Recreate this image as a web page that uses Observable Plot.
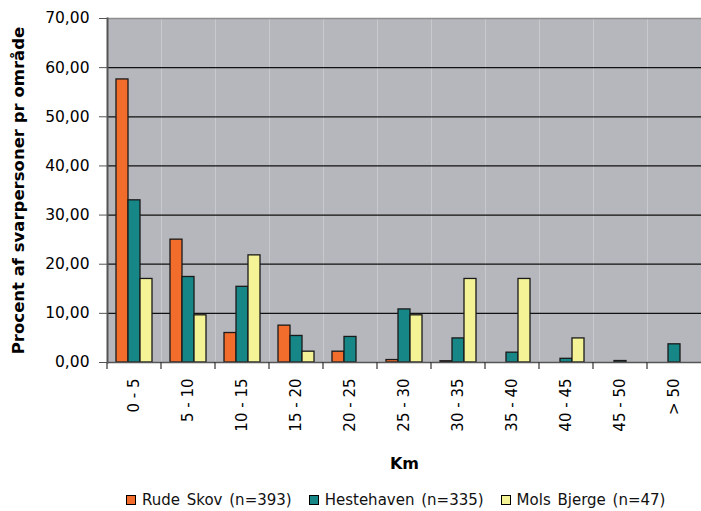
<!DOCTYPE html>
<html><head><meta charset="utf-8">
<script src="https://cdn.jsdelivr.net/npm/d3@7"></script>
<script src="https://cdn.jsdelivr.net/npm/@observablehq/plot@0.6"></script>
<style>
body{margin:0;background:#fff;font-family:"DejaVu Sans",sans-serif;}
#legend{height:31px;padding-top:8px;box-sizing:border-box;padding-left:126px;font-size:15px;line-height:18px;display:flex;align-items:center;color:#111;word-spacing:2px;}
#legend .item{display:inline-flex;align-items:center;margin-right:17px;white-space:nowrap;}
#legend .sw{width:8px;height:8px;border:1px solid #000;margin-right:6px;}
</style></head><body>
<div id="chart"></div>
<div id="legend"></div>
<script>
const categories = ["0 - 5","5 - 10","10 - 15","15 - 20","20 - 25","25 - 30","30 - 35","35 - 40","40 - 45","45 - 50","> 50"];
const seriesNames = ["Rude Skov (n=393)","Hestehaven (n=335)","Mols Bjerge (n=47)"];
const rudeSkov   = [57.6, 25.0, 6.0, 7.5, 2.2, 0.5, 0.25, 0, 0, 0, 0];
const hestehaven = [33.0, 17.4, 15.4, 5.4, 5.2, 10.8, 4.9, 2.0, 0.75, 0.3, 3.7];
const molsBjerge = [17.0, 9.6, 21.8, 2.2, 0, 9.6, 17.0, 17.0, 4.9, 0, 0];
const seriesValues = [rudeSkov, hestehaven, molsBjerge];
const colors = ["#F26C2C","#168686","#F4F497"];
const yTicks = [0,10,20,30,40,50,60,70];
const yLabel = "Procent af svarpersoner pr område";
const xLabel = "Km";

const data = categories.flatMap((cat, i) => seriesNames.map((s, j) => ({cat, series: s, value: seriesValues[j][i]})));

function boundaryTicks(index, scales, values, dimensions) {
  const {marginLeft, height, marginBottom} = dimensions;
  const y0 = height - marginBottom;
  const g = d3.create("svg:g");
  g.append("line").attr("x1", marginLeft).attr("x2", marginLeft)
    .attr("y1", y0).attr("y2", y0 + 7).attr("stroke", "#333").attr("stroke-width", 1.2);
  return g.node();
}

const fmt = d => d.toFixed(2).replace(".", ",");

const chart = Plot.plot({
  width: 701, height: 480,
  marginLeft: 107, marginRight: 0, marginTop: 18, marginBottom: 118,
  style: {fontFamily: "DejaVu Sans", fontSize: "15px", color: "#000", background: "transparent"},
  fx: {domain: categories, padding: 0, label: null, axis: null},
  x: {domain: seriesNames, paddingInner: 0, paddingOuter: 0.66, axis: null},
  y: {domain: [0, 70], axis: null},
  color: {domain: seriesNames, range: colors},
  marks: [
    Plot.frame({fill: "#B6B7BC", stroke: null}),
    Plot.ruleY(yTicks.filter(v => v > 0 && v < 70), {stroke: "#111", strokeWidth: 1.2}),
    Plot.ruleY([70], {stroke: "#8e8e8e", strokeWidth: 1.5}),
    Plot.barY(data, {fx: "cat", x: "series", y: "value", fill: "series", stroke: "#1a1a1a", strokeWidth: 1.3}),
    Plot.ruleY([0], {stroke: "#555", strokeWidth: 1.5}),
    boundaryTicks,
    Plot.frame({anchor: "left", stroke: "#555", strokeWidth: 2, fx: () => categories[0]}),
    Plot.axisY(yTicks, {tickSize: 8, tickPadding: 10, tickFormat: fmt, stroke: "#555", fontSize: 15.5, label: null}),
    Plot.axisY({ticks: [], label: yLabel, labelArrow: "none", labelAnchor: "center", labelOffset: 95, fontWeight: "bold", fontSize: 16.5}),
    Plot.axisFx({anchor: "bottom", tickSize: 0, tickPadding: 16, tickRotate: -90, label: null, fontSize: 15}),
    Plot.axisFx({anchor: "bottom", ticks: [], label: xLabel, labelArrow: "none", labelAnchor: "center", labelOffset: 106, fontWeight: "bold", fontSize: 16})
  ]
});
document.getElementById("chart").appendChild(chart);

const legend = d3.select("#legend");
seriesNames.forEach((s, i) => {
  const it = legend.append("span").attr("class", "item");
  it.append("span").attr("class", "sw").style("background", colors[i]);
  it.append("span").text(s);
});
</script>
</body></html>
